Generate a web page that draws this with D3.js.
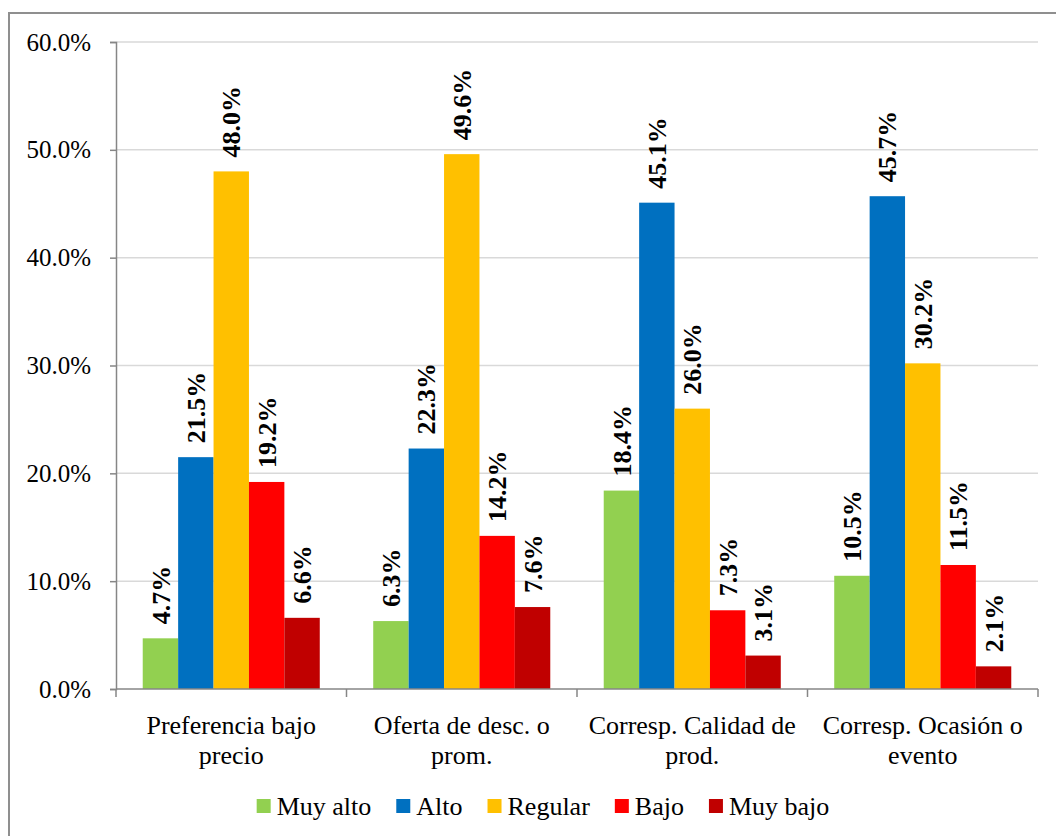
<!DOCTYPE html>
<html>
<head>
<meta charset="utf-8">
<script src="https://cdn.jsdelivr.net/npm/d3@7"></script>
<style>
  body { margin: 0; background: #fff; }
  svg text { font-family: "Liberation Serif", "Times New Roman", serif; }
</style>
</head>
<body>
<div id="chart"></div>
<script>
// Data
const categories = [
    ["Preferencia bajo", "precio"],
    ["Oferta de desc. o", "prom."],
    ["Corresp. Calidad de", "prod."],
    ["Corresp. Ocasión o", "evento"]
];
const series = ["Muy alto", "Alto", "Regular", "Bajo", "Muy bajo"];
const muyAlto = [4.7, 6.3, 18.4, 10.5];
const alto = [21.5, 22.3, 45.1, 45.7];
const regular = [48.0, 49.6, 26.0, 30.2];
const bajo = [19.2, 14.2, 7.3, 11.5];
const muyBajo = [6.6, 7.6, 3.1, 2.1];
const yTicks = [0, 10, 20, 30, 40, 50, 60];

const values = [muyAlto, alto, regular, bajo, muyBajo];

const width = 1056;
const height = 836;
const margin = { top: 42, right: 18, bottom: 147, left: 116 };

const color = d3.scaleOrdinal()
    .domain(series)
    .range(["#92D050", "#0070C0", "#FFC000", "#FF0000", "#C00000"]);

const svg = d3.select("#chart")
    .append("svg")
    .attr("width", width)
    .attr("height", height);

// outer chart border
svg.append("rect")
    .attr("x", 9)
    .attr("y", 13)
    .attr("width", width)
    .attr("height", height)
    .attr("fill", "none")
    .attr("stroke", "#8f8f8f")
    .attr("stroke-width", 2);

const x0 = d3.scaleBand()
    .domain(d3.range(categories.length))
    .range([margin.left, width - margin.right]);

const x1 = d3.scaleBand()
    .domain(series)
    .range([0, x0.bandwidth()])
    .paddingOuter(0.755);

const y = d3.scaleLinear()
    .domain([0, 60])
    .range([height - margin.bottom, margin.top]);

// gridlines
svg.append("g")
    .selectAll("line")
    .data(yTicks.filter(t => t > 0))
    .join("line")
    .attr("x1", margin.left)
    .attr("x2", width - margin.right)
    .attr("y1", d => y(d))
    .attr("y2", d => y(d))
    .attr("stroke", "#d9d9d9")
    .attr("stroke-width", 1.5);

// y axis
const yAxis = svg.append("g")
    .attr("transform", `translate(${margin.left},0)`)
    .call(d3.axisLeft(y).tickValues(yTicks).tickSize(6).tickPadding(19)
        .tickFormat(d => d.toFixed(1) + "%"))
    .attr("font-family", null)
    .attr("font-size", null);
yAxis.select(".domain").attr("stroke", "#868686").attr("stroke-width", 1.5);
yAxis.selectAll(".tick line").attr("stroke", "#868686").attr("stroke-width", 1.5);
yAxis.selectAll(".tick text")
    .style("font-size", "25px")
    .attr("fill", "#000");

// bars
const groups = svg.append("g")
    .selectAll("g")
    .data(categories)
    .join("g")
    .attr("transform", (d, i) => `translate(${x0(i)},0)`);

groups.each(function (c, i) {
    const g = d3.select(this);
    const rows = series.map((s, j) => ({ s, v: values[j][i] }));
    g.selectAll("rect")
        .data(rows)
        .join("rect")
        .attr("x", d => x1(d.s))
        .attr("y", d => y(d.v))
        .attr("width", x1.bandwidth())
        .attr("height", d => y(0) - y(d.v))
        .attr("fill", d => color(d.s));

    g.selectAll("text")
        .data(rows)
        .join("text")
        .attr("transform", d => `translate(${x1(d.s) + x1.bandwidth() / 2},${y(d.v) - 14}) rotate(-90)`)
        .attr("dy", "0.35em")
        .style("font-size", "26px")
        .style("font-weight", "bold")
        .attr("fill", "#000")
        .text(d => d.v.toFixed(1) + "%");
});

// x axis
const xAxis = svg.append("g")
    .attr("transform", `translate(0,${y(0)})`);
xAxis.append("line")
    .attr("x1", margin.left)
    .attr("x2", width - margin.right)
    .attr("stroke", "#868686")
    .attr("stroke-width", 1.5);
xAxis.selectAll(".xtick")
    .data(d3.range(categories.length + 1))
    .join("line")
    .attr("class", "xtick")
    .attr("x1", d => d < categories.length ? x0(d) : width - margin.right)
    .attr("x2", d => d < categories.length ? x0(d) : width - margin.right)
    .attr("y1", 0)
    .attr("y2", 8)
    .attr("stroke", "#868686")
    .attr("stroke-width", 1.5);

const catLabels = xAxis.selectAll(".cat")
    .data(categories)
    .join("text")
    .attr("class", "cat")
    .attr("text-anchor", "middle")
    .style("font-size", "26px")
    .attr("fill", "#000");
catLabels.selectAll("tspan")
    .data((d, i) => d.map(line => ({ line, i })))
    .join("tspan")
    .attr("x", d => x0(d.i) + x0.bandwidth() / 2)
    .attr("y", (d, k) => 45 + k * 30)
    .text(d => d.line);

// legend
const legend = svg.append("g").attr("transform", "translate(0,806)");
const items = legend.selectAll("g")
    .data(series)
    .join("g");
items.append("rect")
    .attr("y", -7)
    .attr("width", 14)
    .attr("height", 14)
    .attr("fill", d => color(d));
items.append("text")
    .attr("x", 20)
    .attr("dy", "0.35em")
    .style("font-size", "26px")
    .attr("fill", "#000")
    .text(d => d);

let widths = [];
items.each(function () {
    widths.push(d3.select(this).select("text").node().getComputedTextLength() + 20);
});
const gap = 25;
const total = d3.sum(widths) + gap * (widths.length - 1);
let cx = (254 + 832) / 2 - total / 2;
items.attr("transform", (d, i) => {
    const t = `translate(${cx},0)`;
    cx += widths[i] + gap;
    return t;
});
</script>
</body>
</html>
